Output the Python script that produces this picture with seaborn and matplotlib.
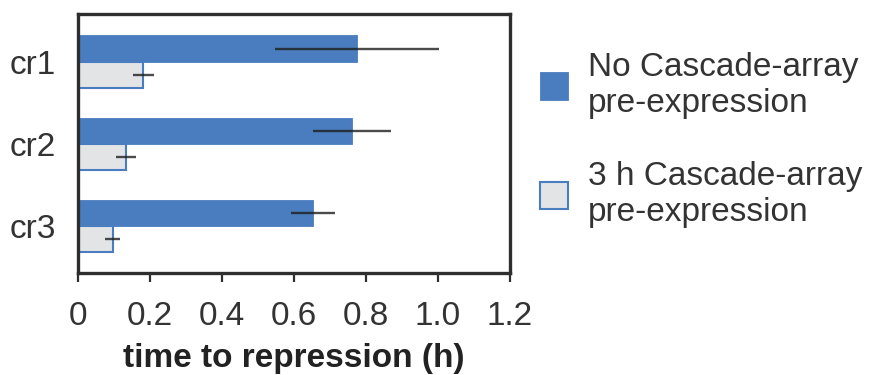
import matplotlib
matplotlib.use("Agg")
import matplotlib.pyplot as plt
from matplotlib.patches import Patch
import seaborn as sns
import pandas as pd

# Repression times per CRISPR array target
targets = ["cr1", "cr2", "cr3"]
conditions = ["No Cascade-array\npre-expression", "3 h Cascade-array\npre-expression"]
time_no_pre = [0.775, 0.761, 0.653]
err_no_pre = [0.227, 0.108, 0.060]
time_3h_pre = [0.181, 0.133, 0.097]
err_3h_pre = [0.029, 0.028, 0.021]
xticks = [0, 0.2, 0.4, 0.6, 0.8, 1.0, 1.2]
xtick_labels = ["0", "0.2", "0.4", "0.6", "0.8", "1.0", "1.2"]

df = pd.DataFrame({
    "target": targets * 2,
    "condition": [conditions[0]] * 3 + [conditions[1]] * 3,
    "time": time_no_pre + time_3h_pre,
})
errs = err_no_pre + err_3h_pre

sns.set_style("white")
plt.rcParams["font.family"] = ["Liberation Sans", "DejaVu Sans"]

blue = "#4a7dbf"
light = "#e3e4e6"
ink = "#2e2e2e"

fig = plt.figure(figsize=(8.72, 3.75), dpi=100)
ax = fig.add_axes([78 / 872, 1 - 273 / 375, 432 / 872, 259 / 375])

sns.barplot(data=df, y="target", x="time", hue="condition", orient="h",
            order=targets, hue_order=conditions, saturation=1,
            palette=[blue, light], width=0.646, errorbar=None,
            legend=False, ax=ax)

# outline the bars and attach error bars at their centres
for i, p in enumerate(ax.patches):
    p.set_edgecolor(blue)
    p.set_linewidth(1.5 if i >= 3 else 0.6)
    yc = p.get_y() + p.get_height() / 2
    ax.errorbar(p.get_width(), yc, xerr=errs[i], fmt="none", ecolor="#1e1e1e",
                alpha=0.8, elinewidth=1.7, capsize=0, zorder=5)

ax.set_xlim(0, 1.2)
ax.set_ylim(2.573, -0.585)
ax.set_xticks(xticks)
ax.set_xticklabels(xtick_labels, fontsize=24, color="#333333")
ax.tick_params(axis="x", direction="out", length=6.5, width=1.6, color=ink,
               pad=13.5, bottom=True)
ax.tick_params(axis="y", length=0, labelsize=24, pad=16, labelcolor="#333333")
ax.set_ylabel("")
ax.set_xlabel("time to repression (h)", fontsize=24, fontweight="bold",
              color="#222222", labelpad=8)
for s in ax.spines.values():
    s.set_visible(True)
    s.set_linewidth(2.4)
    s.set_color(ink)

handles = [Patch(facecolor=blue, edgecolor=blue, linewidth=0.6),
           Patch(facecolor=light, edgecolor=blue, linewidth=1.5)]
fig.legend(handles, conditions, loc="upper left", bbox_to_anchor=(540 / 872, 0.861),
           frameon=False, fontsize=24, handlelength=0.84, handleheight=0.87,
           handletextpad=0.6, labelspacing=1.27, borderpad=0, borderaxespad=0,
           labelcolor="#333333")

fig.savefig("out.png", dpi=100, facecolor="white")
